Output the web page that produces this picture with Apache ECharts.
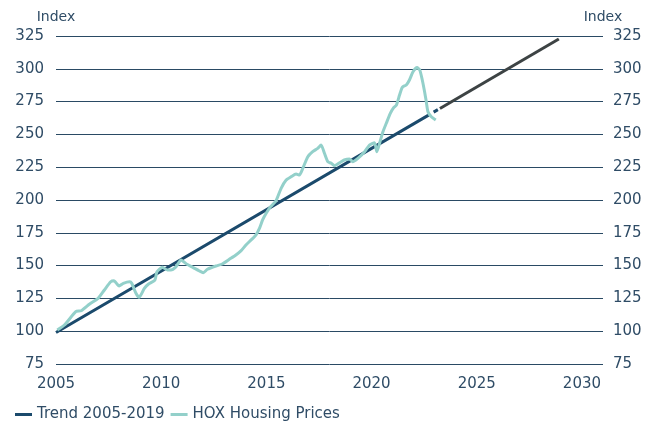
<!DOCTYPE html>
<html>
<head>
<meta charset="utf-8">
<script src="https://cdn.jsdelivr.net/npm/echarts@6/dist/echarts.min.js"></script>
<style>
  html, body { margin: 0; padding: 0; background: #fff; }
  #main { width: 648px; height: 421px; }
</style>
</head>
<body>
<div id="main"></div>
<script>
// x ticks / y ticks
var yTicks = [75, 325, 25];
var xTicks = [2005, 2031, 5];

// trend 2005-2019 (solid part, then a short dash before the projection)
var trendData = [[2005, 99], [2022.75, 265.1], [2022.85, '-'], [2022.95, 267.0], [2023.15, 268.9]];
// trend projection (dark grey)
var projData = [[2023.25, 269.8], [2028.9, 322.7]];

// HOX housing prices
var hoxYears = [2005.06, 2005.4, 2005.94, 2006.2, 2006.6, 2007.0, 2007.3, 2007.6, 2007.75, 2008.0,
  2008.2, 2008.5, 2008.6, 2008.8, 2008.95, 2009.2, 2009.4, 2009.7, 2009.8, 2010.06,
  2010.3, 2010.46, 2010.7, 2010.94, 2011.2, 2011.5, 2011.8, 2012.0, 2012.2, 2012.6,
  2012.9, 2013.24, 2013.55, 2013.8, 2014.03, 2014.27, 2014.5, 2014.67, 2014.82, 2014.99,
  2015.2, 2015.46, 2015.7, 2015.94, 2016.18, 2016.41, 2016.57, 2016.73, 2016.97, 2017.2,
  2017.44, 2017.6, 2017.76, 2017.92, 2018.08, 2018.24, 2018.48, 2018.7, 2018.95, 2019.1,
  2019.35, 2019.67, 2019.9, 2020.14, 2020.25, 2020.38, 2020.54, 2020.7, 2020.89, 2021.05,
  2021.18, 2021.33, 2021.46, 2021.65, 2021.8, 2021.97, 2022.16, 2022.29, 2022.41, 2022.52,
  2022.6, 2022.68, 2022.84, 2023.05];
var hoxValues = [100.9, 104.7, 114.9, 115.6, 120.7, 125, 131.4, 137.7, 138.5, 134.5,
  136.5, 137.7, 136.5, 128.9, 125.8, 132.7, 136, 139, 145.3, 148.7,
  146.6, 146.6, 149, 154.3, 151.2, 148.7, 146.1, 144.6, 147.2, 149.7,
  151.2, 154.8, 158.1, 161.4, 165.7, 169.5, 173.3, 178.4, 184.8, 189.9,
  194.9, 199.5, 208.9, 215.2, 217.8, 219.8, 219, 224.1, 233, 236.8,
  239.4, 241.9, 235.6, 229.2, 228, 226.2, 228.4, 230.5, 231.3, 229.2,
  231.8, 236.8, 241.9, 243.7, 236.8, 243.2, 252, 258.5, 266, 270.4,
  272.4, 280, 285.9, 287.7, 291.5, 297.8, 300.9, 299.1, 291.5, 282.5,
  275, 267.3, 263.5, 261];

var hoxData = hoxYears.map(function (y, i) { return [y, hoxValues[i]]; });

var textColor = '#2f4c66';
var gridColor = '#2a4a64';
var font = 'DejaVu Sans';

var myChart = echarts.init(document.getElementById('main'));

myChart.setOption({
  animation: false,
  textStyle: { fontFamily: font },
  grid: { left: 56, right: 45, top: 36, bottom: 57 },
  legend: {
    left: 10,
    top: 402,
    icon: 'rect',
    itemWidth: 17,
    itemHeight: 3,
    itemGap: 6,
    textStyle: { color: textColor, fontSize: 15, fontFamily: font },
    data: ['Trend 2005-2019', 'HOX Housing Prices']
  },
  xAxis: {
    type: 'value',
    min: xTicks[0],
    max: xTicks[1],
    interval: xTicks[2],
    axisLine: { show: false },
    axisTick: { show: false },
    splitLine: { show: false },
    axisLabel: {
      color: textColor,
      fontSize: 15,
      margin: 13,
      formatter: function (v) { return v % 5 === 0 ? String(v) : ''; }
    }
  },
  yAxis: [{
    type: 'value',
    position: 'left',
    min: yTicks[0],
    max: yTicks[1],
    interval: yTicks[2],
    name: 'Index',
    nameLocation: 'end',
    nameGap: 12,
    nameTextStyle: { color: textColor, fontSize: 14, align: 'center' },
    axisLine: { show: false },
    axisTick: { show: false },
    axisLabel: { color: textColor, fontSize: 15, margin: 12 },
    splitLine: { lineStyle: { color: gridColor, width: 1 } }
  }, {
    type: 'value',
    position: 'right',
    min: yTicks[0],
    max: yTicks[1],
    interval: yTicks[2],
    name: 'Index',
    nameLocation: 'end',
    nameGap: 12,
    nameTextStyle: { color: textColor, fontSize: 14, align: 'center' },
    axisLine: { show: false },
    axisTick: { show: false },
    axisLabel: { color: textColor, fontSize: 15, margin: 10 },
    splitLine: { show: false }
  }],
  series: [{
    name: 'Trend 2005-2019',
    type: 'line',
    data: trendData,
    showSymbol: false,
    connectNulls: false,
    lineStyle: { color: '#1b4a6c', width: 3 },
    itemStyle: { color: '#1b4a6c' },
    z: 2
  }, {
    name: 'Projection',
    type: 'line',
    data: projData,
    showSymbol: false,
    lineStyle: { color: '#3d4344', width: 3 },
    itemStyle: { color: '#3d4344' },
    z: 2
  }, {
    name: 'HOX Housing Prices',
    type: 'line',
    data: hoxData,
    showSymbol: false,
    smooth: 0.2,
    lineStyle: { color: '#93d0ca', width: 3 },
    itemStyle: { color: '#93d0ca' },
    z: 3
  }]
});
</script>
</body>
</html>
